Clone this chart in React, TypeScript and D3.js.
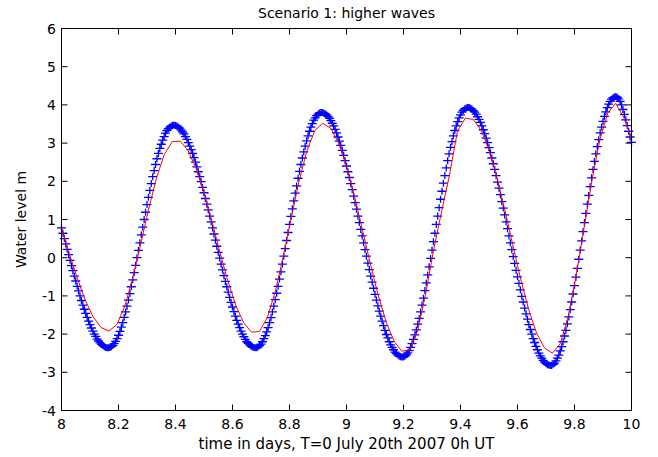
import React from 'react';
import * as d3 from 'd3';

// time axis: days since July 20th 2007 0h UT
const START_DAY = 8;
const OBS_STEP = 1 / 200; // observed water level sampling (days)
const MODEL_STEP = 1 / 36; // model output sampling (days)

// observed water level (m), blue "+" markers
const observed = [
  0.78, 0.64, 0.50, 0.36, 0.22, 0.08, -0.07, -0.21, -0.34, -0.48, -0.61, -0.75, -0.87, -1.00, -1.12, -1.24, -1.35,
  -1.46, -1.56, -1.66, -1.75, -1.84, -1.92, -2.00, -2.06, -2.13, -2.18, -2.23, -2.27, -2.30, -2.33, -2.35, -2.36, -2.36,
  -2.35, -2.33, -2.30, -2.25, -2.19, -2.12, -2.03, -1.93, -1.82, -1.70, -1.56, -1.42, -1.27, -1.11, -0.94, -0.76, -0.58,
  -0.39, -0.20, 0.00, 0.19, 0.39, 0.60, 0.80, 1.00, 1.19, 1.39, 1.58, 1.76, 1.94, 2.12, 2.28, 2.44, 2.59, 2.73, 2.86,
  2.97, 3.08, 3.17, 3.26, 3.33, 3.38, 3.42, 3.45, 3.47,
  3.47, 3.46, 3.45, 3.42, 3.39, 3.34, 3.29, 3.24, 3.17, 3.10, 3.01, 2.92, 2.83, 2.73, 2.62, 2.50, 2.38, 2.25, 2.12,
  1.99, 1.84, 1.70, 1.55, 1.40, 1.25, 1.09, 0.94, 0.78, 0.62, 0.46, 0.30, 0.14, -0.01, -0.17, -0.32, -0.47, -0.62,
  -0.76, -0.90, -1.04, -1.17, -1.29, -1.41, -1.53, -1.64, -1.74, -1.83, -1.92, -2.00, -2.07, -2.14, -2.20, -2.24,
  -2.28, -2.32, -2.34, -2.35, -2.36,
  -2.36, -2.34, -2.30, -2.26, -2.20, -2.12, -2.04, -1.94, -1.83, -1.70, -1.57, -1.42, -1.27, -1.10, -0.93, -0.75,
  -0.56, -0.37, -0.17, 0.04, 0.24, 0.45, 0.66, 0.87, 1.08, 1.28, 1.49, 1.69, 1.88, 2.08, 2.26, 2.44, 2.61, 2.77,
  2.92, 3.06, 3.19, 3.31, 3.42, 3.51, 3.60, 3.66, 3.72, 3.76, 3.79, 3.80,
  3.80, 3.79, 3.77, 3.74, 3.70, 3.65, 3.59, 3.52, 3.45, 3.36, 3.27, 3.16, 3.05, 2.94, 2.81, 2.68, 2.54, 2.40, 2.25,
  2.10, 1.94, 1.78, 1.61, 1.44, 1.27, 1.09, 0.92, 0.74, 0.57, 0.39, 0.21, 0.04, -0.14, -0.31, -0.48, -0.64, -0.80,
  -0.96, -1.11, -1.26, -1.40, -1.53, -1.66, -1.78, -1.90, -2.01, -2.10, -2.20, -2.28, -2.35, -2.41, -2.47, -2.51,
  -2.55, -2.58, -2.59, -2.60,
  -2.60, -2.58, -2.54, -2.49, -2.43, -2.35, -2.25, -2.14, -2.02, -1.89, -1.74, -1.59, -1.42, -1.24, -1.06, -0.86,
  -0.66, -0.45, -0.24, -0.02, 0.20, 0.42, 0.64, 0.87, 1.09, 1.31, 1.53, 1.74, 1.95, 2.15, 2.35, 2.54, 2.72, 2.89,
  3.04, 3.19, 3.33, 3.45, 3.56, 3.66, 3.74, 3.81, 3.86, 3.90, 3.92, 3.93,
  3.93, 3.91, 3.89, 3.85, 3.81, 3.76, 3.69, 3.62, 3.54, 3.45, 3.35, 3.25, 3.13, 3.01, 2.88, 2.75, 2.61, 2.46, 2.31,
  2.15, 1.98, 1.82, 1.65, 1.47, 1.30, 1.12, 0.94, 0.76, 0.57, 0.39, 0.21, 0.03, -0.15, -0.33, -0.50, -0.67, -0.84,
  -1.01, -1.16, -1.32, -1.47, -1.61, -1.75, -1.88, -2.00, -2.12, -2.22, -2.32, -2.41, -2.50, -2.57, -2.63, -2.69,
  -2.73, -2.77, -2.80, -2.81, -2.82,
  -2.82, -2.79, -2.76, -2.70, -2.63, -2.55, -2.44, -2.33, -2.20, -2.05, -1.90, -1.73, -1.55, -1.36, -1.16, -0.95,
  -0.73, -0.51, -0.28, -0.04, 0.20, 0.44, 0.68, 0.92, 1.16, 1.40, 1.63, 1.86, 2.09, 2.31, 2.52, 2.72, 2.91, 3.09,
  3.27, 3.42, 3.57, 3.70, 3.82, 3.93, 4.02, 4.09, 4.15, 4.19, 4.21, 4.22,
  4.20, 4.16, 4.09, 4.00, 3.88, 3.75, 3.61, 3.46, 3.31, 3.16, 3.02,
];

// modelled water level (m), red line
const modelled = [
  0.78, 0.10, -0.54, -1.11, -1.55, -1.83, -1.92, -1.75, -1.27, -0.53, 0.35, 1.27, 2.09, 2.71, 3.04, 3.05, 2.80,
  2.34, 1.70, 0.95, 0.15, -0.60, -1.24, -1.70, -1.95, -1.93, -1.57, -0.89, 0.02, 1.02, 2.00, 2.80, 3.33, 3.52,
  3.39, 3.00, 2.39, 1.62, 0.74, -0.15, -0.98, -1.68, -2.18, -2.45, -2.41, -1.90, -0.95, 0.20, 1.20, 2.15, 3.30,
  3.65, 3.62, 3.34, 2.82, 2.10, 1.25, 0.34, -0.56, -1.35, -1.97, -2.36, -2.50, -2.25, -1.54, -0.48, 0.77, 2.02,
  3.08, 3.79, 4.04, 3.68, 3.12,
];

const xTicks = [8, 8.2, 8.4, 8.6, 8.8, 9, 9.2, 9.4, 9.6, 9.8, 10];
const yTicks = [-4, -3, -2, -1, 0, 1, 2, 3, 4, 5, 6];
const titleText = 'Scenario 1: higher waves';
const xLabelText = 'time in days, T=0 July 20th 2007 0h UT';
const yLabelText = 'Water level m';

export default function App() {
  const W = 658;
  const H = 457;
  const left = 61.5;
  const right = 631.5;
  const top = 28.5;
  const bottom = 410.5;
  const x = d3.scaleLinear().domain([8, 10]).range([left, right]);
  const y = d3.scaleLinear().domain([-4, 6]).range([bottom, top]);
  const font = '"DejaVu Sans", sans-serif';

  const obsPts = observed.map((v, i) => [START_DAY + i * OBS_STEP, v] as [number, number]);
  const modPts = modelled.map((v, i) => [START_DAY + i * MODEL_STEP, v] as [number, number]);

  let plus = '';
  obsPts.forEach(([t, v]) => {
    const px = x(t);
    const py = y(v);
    plus += `M${px - 4.5},${py}h9M${px},${py - 3.5}v7`;
  });

  const line = d3
    .line<[number, number]>()
    .x((d) => x(d[0]))
    .y((d) => y(d[1]));

  const tickLen = 6;
  const fmt = (t: number) => String(Math.round(t * 10) / 10);

  return (
    <svg
      width={W}
      height={H}
      viewBox={`0 0 ${W} ${H}`}
      style={{ position: 'absolute', left: 0, top: 0, background: '#fff' }}
    >
      <rect x={0} y={0} width={W} height={H} fill="#fff" />
      <text x={(left + right) / 2} y={18} textAnchor="middle" fontFamily={font} fontSize={14} fill="#000">
        {titleText}
      </text>
      <g>
        <path d={plus} stroke="#0000ff" strokeWidth={1.3} fill="none" />
        <path d={line(modPts) || ''} stroke="#ff0000" strokeWidth={1} fill="none" />
      </g>
      <rect x={left} y={top} width={right - left} height={bottom - top} fill="none" stroke="#000" strokeWidth={1} />
      {xTicks.map((t) => (
        <g key={`xt${t}`}>
          <line x1={x(t)} x2={x(t)} y1={bottom} y2={bottom - tickLen} stroke="#000" />
          <line x1={x(t)} x2={x(t)} y1={top} y2={top + tickLen} stroke="#000" />
          <text x={x(t)} y={429} textAnchor="middle" fontFamily={font} fontSize={14} fill="#000">
            {fmt(t)}
          </text>
        </g>
      ))}
      {yTicks.map((t) => (
        <g key={`yt${t}`}>
          <line x1={left} x2={left + tickLen} y1={y(t)} y2={y(t)} stroke="#000" />
          <line x1={right} x2={right - tickLen} y1={y(t)} y2={y(t)} stroke="#000" />
          <text x={56} y={y(t)} dy="0.36em" textAnchor="end" fontFamily={font} fontSize={14} fill="#000">
            {fmt(t)}
          </text>
        </g>
      ))}
      <text x={(left + right) / 2} y={449} textAnchor="middle" fontFamily={font} fontSize={15} fill="#000">
        {xLabelText}
      </text>
      <text
        transform={`translate(26,${(top + bottom) / 2}) rotate(-90)`}
        textAnchor="middle"
        fontFamily={font}
        fontSize={14}
        fill="#000"
      >
        {yLabelText}
      </text>
    </svg>
  );
}
